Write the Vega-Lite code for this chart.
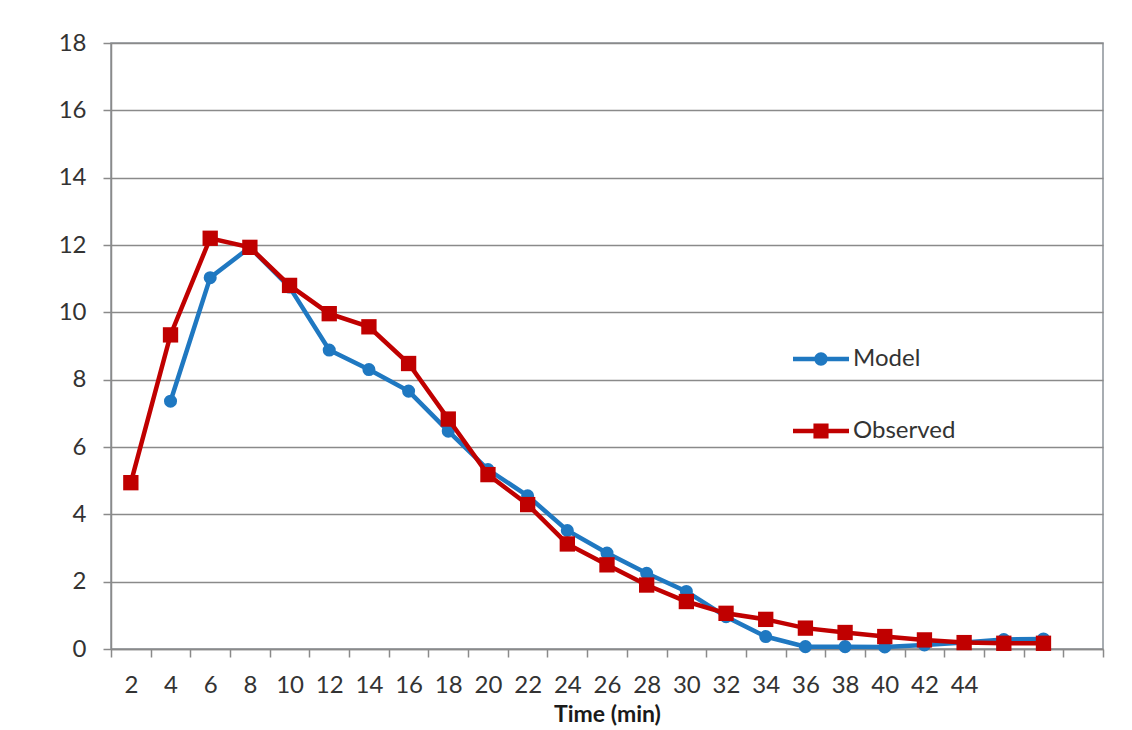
{
  "$schema": "https://vega.github.io/schema/vega-lite/v6.json",
  "width": 992,
  "height": 606,
  "autosize": {"type": "none"},
  "padding": {"left": 111, "top": 43, "right": 29, "bottom": 81},
  "background": "white",
  "config": {
    "font": "Lato",
    "view": {"stroke": "#8c9299", "strokeWidth": 1.5},
    "axis": {
      "domainColor": "#8a8a8a",
      "domainWidth": 1.5,
      "tickColor": "#8a8a8a",
      "tickWidth": 1.5,
      "tickSize": 8,
      "labelColor": "#333333",
      "labelFontSize": 24,
      "labelFont": "Lato",
      "titleFont": "Lato",
      "titleFontSize": 23,
      "titleFontWeight": "bold",
      "titleColor": "#1a1a1a",
      "labelFlush": false,
      "labelOverlap": false
    }
  },
  "resolve": {"legend": {"color": "independent", "shape": "independent"}},
  "data": {
    "values": [
      {"t": 2, "series": "Observed", "value": 4.94},
      {"t": 4, "series": "Model", "value": 7.36},
      {"t": 4, "series": "Observed", "value": 9.33},
      {"t": 6, "series": "Model", "value": 11.03},
      {"t": 6, "series": "Observed", "value": 12.2},
      {"t": 8, "series": "Model", "value": 11.93},
      {"t": 8, "series": "Observed", "value": 11.93},
      {"t": 10, "series": "Model", "value": 10.75},
      {"t": 10, "series": "Observed", "value": 10.8},
      {"t": 12, "series": "Model", "value": 8.88},
      {"t": 12, "series": "Observed", "value": 9.96},
      {"t": 14, "series": "Model", "value": 8.3},
      {"t": 14, "series": "Observed", "value": 9.57},
      {"t": 16, "series": "Model", "value": 7.66},
      {"t": 16, "series": "Observed", "value": 8.48},
      {"t": 18, "series": "Model", "value": 6.47},
      {"t": 18, "series": "Observed", "value": 6.83},
      {"t": 20, "series": "Model", "value": 5.33},
      {"t": 20, "series": "Observed", "value": 5.18},
      {"t": 22, "series": "Model", "value": 4.55},
      {"t": 22, "series": "Observed", "value": 4.29},
      {"t": 24, "series": "Model", "value": 3.52},
      {"t": 24, "series": "Observed", "value": 3.12},
      {"t": 26, "series": "Model", "value": 2.85},
      {"t": 26, "series": "Observed", "value": 2.5},
      {"t": 28, "series": "Model", "value": 2.25},
      {"t": 28, "series": "Observed", "value": 1.9},
      {"t": 30, "series": "Model", "value": 1.71},
      {"t": 30, "series": "Observed", "value": 1.41},
      {"t": 32, "series": "Model", "value": 0.96},
      {"t": 32, "series": "Observed", "value": 1.06},
      {"t": 34, "series": "Model", "value": 0.37},
      {"t": 34, "series": "Observed", "value": 0.88},
      {"t": 36, "series": "Model", "value": 0.07},
      {"t": 36, "series": "Observed", "value": 0.62},
      {"t": 38, "series": "Model", "value": 0.07},
      {"t": 38, "series": "Observed", "value": 0.49},
      {"t": 40, "series": "Model", "value": 0.06},
      {"t": 40, "series": "Observed", "value": 0.37},
      {"t": 42, "series": "Model", "value": 0.12},
      {"t": 42, "series": "Observed", "value": 0.27},
      {"t": 44, "series": "Model", "value": 0.19},
      {"t": 44, "series": "Observed", "value": 0.19},
      {"t": 46, "series": "Model", "value": 0.28},
      {"t": 46, "series": "Observed", "value": 0.17},
      {"t": 48, "series": "Model", "value": 0.3},
      {"t": 48, "series": "Observed", "value": 0.17}
    ]
  },
  "encoding": {
    "x": {
      "field": "t",
      "type": "quantitative",
      "scale": {"domain": [1, 51], "nice": false, "zero": false},
      "axis": {
        "values": [1, 3, 5, 7, 9, 11, 13, 15, 17, 19, 21, 23, 25, 27, 29, 31, 33, 35, 37, 39, 41, 43, 45, 47, 49, 51],
        "labelExpr": "datum.value <= 43 ? '' + (datum.value + 1) : ''",
        "labelOffset": 19.84,
        "labelPadding": 16,
        "grid": false,
        "title": "Time (min)",
        "titlePadding": 6
      }
    },
    "y": {
      "field": "value",
      "type": "quantitative",
      "scale": {"domain": [0, 18], "nice": false},
      "axis": {
        "values": [0, 2, 4, 6, 8, 10, 12, 14, 16, 18],
        "title": null,
        "grid": true,
        "gridColor": "#8a8a8a",
        "gridWidth": 1.5,
        "labelPadding": 17
      }
    }
  },
  "layer": [
    {
      "transform": [{"filter": "datum.series === 'Model'"}],
      "mark": {"type": "line", "strokeWidth": 4.5},
      "encoding": {
        "color": {"field": "series", "type": "nominal", "scale": {"domain": ["Model", "Observed"], "range": ["#1f78c1", "#c00000"]}, "legend": null}
      }
    },
    {
      "transform": [{"filter": "datum.series === 'Model'"}],
      "mark": {"type": "point", "filled": true, "shape": "circle", "size": 170, "opacity": 1},
      "encoding": {
        "color": {"field": "series", "type": "nominal", "legend": null}
      }
    },
    {
      "transform": [{"filter": "datum.series === 'Observed'"}],
      "mark": {"type": "line", "strokeWidth": 4.5},
      "encoding": {
        "color": {"field": "series", "type": "nominal", "legend": null}
      }
    },
    {
      "transform": [{"filter": "datum.series === 'Observed'"}],
      "mark": {"type": "point", "filled": true, "shape": "square", "size": 235, "opacity": 1},
      "encoding": {
        "color": {"field": "series", "type": "nominal", "legend": null}
      }
    },
    {
      "mark": {"type": "point", "filled": true, "opacity": 0},
      "encoding": {
        "color": {
          "field": "series",
          "type": "nominal",
          "legend": {
            "orient": "none", "legendX": 682, "legendY": 288, "padding": 0, "title": null,
            "symbolSize": 3136, "symbolStrokeWidth": 0, "symbolOpacity": 1, "rowPadding": 32,
            "labelFontSize": 24, "labelColor": "#333333", "labelOffset": 4, "labelFont": "Lato"
          }
        },
        "shape": {
          "field": "series",
          "type": "nominal",
          "scale": {
            "domain": ["Model", "Observed"],
            "range": [
              "M-1,-0.08H1V0.08H-1Z M-0.24,0A0.24,0.24 0 1,1 0.24,0A0.24,0.24 0 1,1 -0.24,0Z",
              "M-1,-0.08H1V0.08H-1Z M-0.27,-0.27H0.27V0.27H-0.27Z"
            ]
          },
          "legend": {
            "orient": "none", "legendX": 682, "legendY": 288, "padding": 0, "title": null,
            "symbolSize": 3136, "symbolStrokeWidth": 0, "symbolOpacity": 1, "rowPadding": 32,
            "labelFontSize": 24, "labelColor": "#333333", "labelOffset": 4, "labelFont": "Lato"
          }
        }
      }
    }
  ]
}
